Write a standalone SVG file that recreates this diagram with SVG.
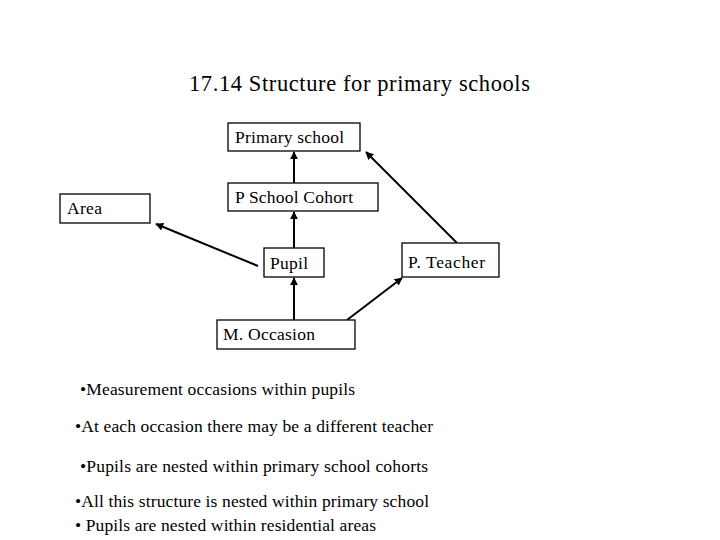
<svg xmlns="http://www.w3.org/2000/svg" width="720" height="540" viewBox="0 0 720 540">
<style>
text{font-family:"Liberation Serif","Times New Roman",serif;fill:#000}
.lbl{font-size:17.5px}
.node rect{fill:#fff;stroke:#000;stroke-width:1.3}
.edge{stroke:#000;stroke-width:2;fill:none;marker-end:url(#ah)}
.b{font-size:17.5px}
</style>
<defs>
<marker id="ah" viewBox="0 0 10 10" refX="9" refY="5" markerWidth="4" markerHeight="4" orient="auto" markerUnits="strokeWidth">
<path d="M0,0 L10,5 L0,10 z" fill="#000"/>
</marker>
</defs>
<rect width="720" height="540" fill="#fff"/>
<text x="189" y="91" font-size="22.5" textLength="341" lengthAdjust="spacing">17.14 Structure for primary schools</text>
<g id="connectors">
<line class="edge" x1="294" y1="183" x2="294" y2="152"/>
<line class="edge" x1="294" y1="248" x2="294" y2="212"/>
<line class="edge" x1="294" y1="320" x2="294" y2="278"/>
<line class="edge" x1="258" y1="266" x2="156" y2="224"/>
<line class="edge" x1="457" y1="243" x2="366" y2="152"/>
<line class="edge" x1="347" y1="320" x2="402" y2="278"/>
</g>
<g id="primary" class="node"><rect x="228" y="123" width="132" height="28"/><text class="lbl" x="235" y="143" textLength="109" lengthAdjust="spacing">Primary school</text></g>
<g id="cohort" class="node"><rect x="228" y="183" width="150" height="28"/><text class="lbl" x="235" y="203" textLength="118" lengthAdjust="spacing">P School Cohort</text></g>
<g id="area" class="node"><rect x="60" y="194" width="90" height="29"/><text class="lbl" x="67" y="214" textLength="35" lengthAdjust="spacing">Area</text></g>
<g id="pupil" class="node"><rect x="264" y="248" width="60" height="29"/><text class="lbl" x="270" y="269" textLength="38" lengthAdjust="spacing">Pupil</text></g>
<g id="teacher" class="node"><rect x="402" y="243" width="97" height="34"/><text class="lbl" x="408" y="268" textLength="77" lengthAdjust="spacing">P. Teacher</text></g>
<g id="occasion" class="node"><rect x="217" y="320" width="138" height="29"/><text class="lbl" x="223" y="340" textLength="92" lengthAdjust="spacing">M. Occasion</text></g>
<g id="notes">
<text class="b" x="80" y="395" textLength="275" lengthAdjust="spacing">•Measurement occasions within pupils</text>
<text class="b" x="75" y="432" textLength="358" lengthAdjust="spacing">•At each occasion there may be a different teacher</text>
<text class="b" x="80" y="472" textLength="348" lengthAdjust="spacing">•Pupils are nested within primary school cohorts</text>
<text class="b" x="75" y="507" textLength="354" lengthAdjust="spacing">•All this structure is nested within primary school</text>
<text class="b" x="75" y="531" textLength="301" lengthAdjust="spacing">• Pupils are nested within residential areas</text>
</g>
</svg>
